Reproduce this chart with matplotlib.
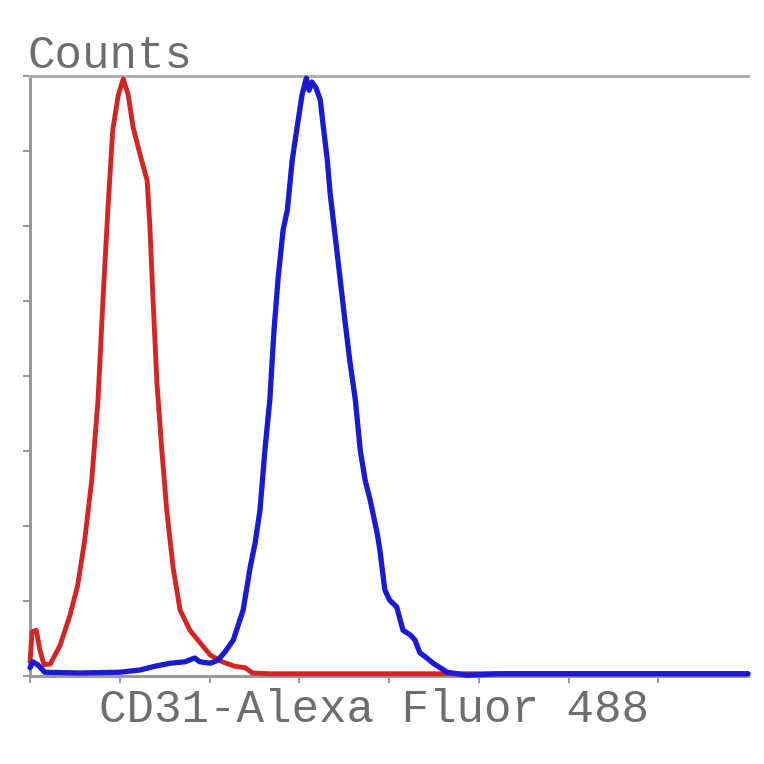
"""Flow cytometry overlay: isotype control (red) vs CD31 stained (blue)."""

import matplotlib

matplotlib.use("Agg")
import matplotlib.pyplot as plt

# channel (0-1024) and counts
red_x = [0, 3, 9, 14, 20, 29, 43, 57, 68, 78, 88, 97, 104, 111, 118, 126, 133,
         140, 147, 157, 167, 171, 175, 181, 188, 195, 204, 214, 228, 242, 257,
         274, 292, 307, 317, 342, 456, 599, 800, 1024]
red_y = [19, 59, 61, 35, 15, 16, 41, 81, 121, 181, 261, 368, 501, 621, 728, 775,
         796, 775, 732, 695, 661, 599, 511, 391, 301, 221, 145, 88, 61, 45, 28,
         19, 13, 11, 4, 3, 3, 3, 3, 3]

blue_x = [0, 4, 11, 21, 71, 128, 157, 178, 200, 221, 235, 242, 257, 268, 278,
          290, 304, 314, 321, 328, 335, 342, 348, 354, 361, 367, 374, 381, 388,
          394, 398, 402, 408, 414, 418, 424, 428, 435, 442, 449, 456, 464, 471,
          478, 485, 495, 499, 506, 513, 523, 532, 542, 549, 556, 566, 575, 585,
          595, 623, 670, 813, 1024]
blue_y = [11, 19, 15, 5, 4, 5, 8, 13, 17, 19, 24, 19, 17, 21, 32, 48, 88, 145,
          177, 221, 301, 368, 461, 532, 595, 621, 688, 732, 775, 797, 781, 792,
          784, 768, 735, 688, 644, 588, 532, 475, 421, 368, 301, 261, 235, 191,
          168, 115, 101, 92, 61, 55, 48, 31, 24, 17, 11, 5, 1, 3, 3, 3]

x_ticks = [0, 128, 256, 384, 512, 640, 768, 896]
y_ticks = [0, 100, 200, 300, 400, 500, 600, 700, 800]

X_LABEL = "CD31-Alexa Fluor 488"
Y_LABEL = "Counts"

SPINE_GREY = "#9a9a9a"
TEXT_GREY = "#6e6e6e"

fig = plt.figure(figsize=(7.64, 7.64), dpi=100)
ax = fig.add_axes([30 / 764, 88 / 764, 718 / 764, 600 / 764])

ax.plot(red_x, red_y, color="#d42525", lw=3.5, solid_joinstyle="round",
        solid_capstyle="round", clip_on=False, zorder=3)
ax.plot(blue_x, blue_y, color="#1a1ad4", lw=3.8, solid_joinstyle="round",
        solid_capstyle="round", clip_on=False, zorder=4)

ax.set_xlim(0, 1024)
ax.set_ylim(0, 800)
ax.set_xticks(x_ticks)
ax.set_yticks(y_ticks)
ax.tick_params(length=5, width=1.5, color=SPINE_GREY,
               labelbottom=False, labelleft=False)

for side in ("left", "bottom", "top"):
    ax.spines[side].set_color(SPINE_GREY)
    ax.spines[side].set_linewidth(2.2)
ax.spines["top"].set_color("#b0b0b0")
ax.spines["right"].set_visible(False)

fig.text(28 / 764, 1 - 68 / 764, Y_LABEL, family="Liberation Mono",
         fontsize=33, color=TEXT_GREY, ha="left", va="baseline")
fig.text(374 / 764, 1 - 722 / 764, X_LABEL, family="Liberation Mono",
         fontsize=33, color=TEXT_GREY, ha="center", va="baseline")

fig.savefig("out.png", dpi=100)
